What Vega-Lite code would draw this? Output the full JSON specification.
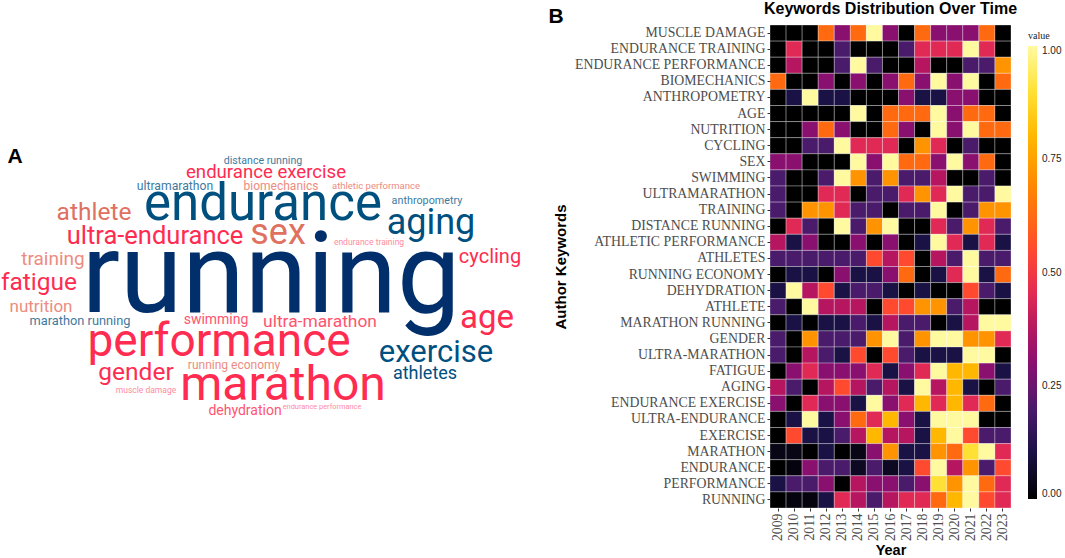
{
"$schema":"https://vega.github.io/schema/vega-lite/v6.json",
"padding":0,
"bounds":"flush",
"spacing":0,
"background":"white",
"config":{"view":{"stroke":null}},
"datasets":{
"words":[
{"word":"running","cx":271,"by":311,"freq":113,"group":"navy"},
{"word":"endurance","cx":263,"by":219,"freq":51,"group":"blue"},
{"word":"performance","cx":219,"by":355,"freq":46,"group":"red"},
{"word":"marathon","cx":283,"by":399,"freq":48,"group":"red"},
{"word":"sex","cx":278,"by":243,"freq":36,"group":"salmon"},
{"word":"aging","cx":431,"by":233,"freq":36,"group":"blue"},
{"word":"exercise","cx":436,"by":361,"freq":31,"group":"blue"},
{"word":"age","cx":487,"by":327,"freq":33,"group":"red"},
{"word":"athletes","cx":425,"by":378,"freq":18,"group":"blue"},
{"word":"athlete","cx":94,"by":219,"freq":24.5,"group":"salmon"},
{"word":"ultra-endurance","cx":155,"by":243,"freq":25.5,"group":"red"},
{"word":"fatigue","cx":39,"by":289,"freq":24.5,"group":"red"},
{"word":"training","cx":53,"by":264,"freq":19,"group":"salmon2"},
{"word":"nutrition","cx":41,"by":311,"freq":17,"group":"salmon2"},
{"word":"marathon running","cx":80,"by":324,"freq":12.8,"group":"blue2"},
{"word":"gender","cx":136,"by":379,"freq":24.5,"group":"red"},
{"word":"muscle damage","cx":146,"by":392,"freq":8.5,"group":"pink"},
{"word":"running economy","cx":234,"by":368,"freq":12,"group":"salmon2"},
{"word":"dehydration","cx":245,"by":414,"freq":14,"group":"red2"},
{"word":"endurance performance","cx":322,"by":408,"freq":7.4,"group":"pink"},
{"word":"swimming","cx":216,"by":323,"freq":14,"group":"red2"},
{"word":"ultra-marathon","cx":320,"by":326,"freq":17.4,"group":"red2"},
{"word":"cycling","cx":490,"by":262,"freq":20,"group":"red"},
{"word":"endurance training","cx":369,"by":244,"freq":8.5,"group":"pink"},
{"word":"anthropometry","cx":427,"by":203,"freq":10.8,"group":"blue2"},
{"word":"athletic performance","cx":376,"by":188,"freq":9.5,"group":"salmon2"},
{"word":"biomechanics","cx":281,"by":189,"freq":12,"group":"salmon2"},
{"word":"ultramarathon","cx":175,"by":189,"freq":12.2,"group":"blue2"},
{"word":"endurance exercise","cx":266,"by":177,"freq":18.6,"group":"red"},
{"word":"distance running","cx":263,"by":163,"freq":10.6,"group":"blue2"}
],
"panels":[{"tag":"A","cx":15,"by":162},{"tag":"B","cx":556,"by":22}],
"cells":[
{"keyword":"MUSCLE DAMAGE","year":2009,"value":0},{"keyword":"MUSCLE DAMAGE","year":2010,"value":0},{"keyword":"MUSCLE DAMAGE","year":2011,"value":0},{"keyword":"MUSCLE DAMAGE","year":2012,"value":0.62},{"keyword":"MUSCLE DAMAGE","year":2013,"value":0.3},{"keyword":"MUSCLE DAMAGE","year":2014,"value":0.62},{"keyword":"MUSCLE DAMAGE","year":2015,"value":1},{"keyword":"MUSCLE DAMAGE","year":2016,"value":0.3},{"keyword":"MUSCLE DAMAGE","year":2017,"value":0},{"keyword":"MUSCLE DAMAGE","year":2018,"value":0.62},{"keyword":"MUSCLE DAMAGE","year":2019,"value":0.3},{"keyword":"MUSCLE DAMAGE","year":2020,"value":0.3},{"keyword":"MUSCLE DAMAGE","year":2021,"value":0.3},{"keyword":"MUSCLE DAMAGE","year":2022,"value":0.62},{"keyword":"MUSCLE DAMAGE","year":2023,"value":0},
{"keyword":"ENDURANCE TRAINING","year":2009,"value":0},{"keyword":"ENDURANCE TRAINING","year":2010,"value":0.45},{"keyword":"ENDURANCE TRAINING","year":2011,"value":0},{"keyword":"ENDURANCE TRAINING","year":2012,"value":0},{"keyword":"ENDURANCE TRAINING","year":2013,"value":0.2},{"keyword":"ENDURANCE TRAINING","year":2014,"value":0},{"keyword":"ENDURANCE TRAINING","year":2015,"value":0},{"keyword":"ENDURANCE TRAINING","year":2016,"value":0},{"keyword":"ENDURANCE TRAINING","year":2017,"value":0.2},{"keyword":"ENDURANCE TRAINING","year":2018,"value":0.45},{"keyword":"ENDURANCE TRAINING","year":2019,"value":0.45},{"keyword":"ENDURANCE TRAINING","year":2020,"value":0.45},{"keyword":"ENDURANCE TRAINING","year":2021,"value":1},{"keyword":"ENDURANCE TRAINING","year":2022,"value":0.45},{"keyword":"ENDURANCE TRAINING","year":2023,"value":0},
{"keyword":"ENDURANCE PERFORMANCE","year":2009,"value":0},{"keyword":"ENDURANCE PERFORMANCE","year":2010,"value":0.38},{"keyword":"ENDURANCE PERFORMANCE","year":2011,"value":0},{"keyword":"ENDURANCE PERFORMANCE","year":2012,"value":0},{"keyword":"ENDURANCE PERFORMANCE","year":2013,"value":0.2},{"keyword":"ENDURANCE PERFORMANCE","year":2014,"value":1},{"keyword":"ENDURANCE PERFORMANCE","year":2015,"value":0.2},{"keyword":"ENDURANCE PERFORMANCE","year":2016,"value":0},{"keyword":"ENDURANCE PERFORMANCE","year":2017,"value":0},{"keyword":"ENDURANCE PERFORMANCE","year":2018,"value":0.38},{"keyword":"ENDURANCE PERFORMANCE","year":2019,"value":0},{"keyword":"ENDURANCE PERFORMANCE","year":2020,"value":0},{"keyword":"ENDURANCE PERFORMANCE","year":2021,"value":0.2},{"keyword":"ENDURANCE PERFORMANCE","year":2022,"value":0.2},{"keyword":"ENDURANCE PERFORMANCE","year":2023,"value":0.72},
{"keyword":"BIOMECHANICS","year":2009,"value":0.62},{"keyword":"BIOMECHANICS","year":2010,"value":0},{"keyword":"BIOMECHANICS","year":2011,"value":0},{"keyword":"BIOMECHANICS","year":2012,"value":0.3},{"keyword":"BIOMECHANICS","year":2013,"value":0},{"keyword":"BIOMECHANICS","year":2014,"value":0.3},{"keyword":"BIOMECHANICS","year":2015,"value":0},{"keyword":"BIOMECHANICS","year":2016,"value":0.3},{"keyword":"BIOMECHANICS","year":2017,"value":0.62},{"keyword":"BIOMECHANICS","year":2018,"value":0.3},{"keyword":"BIOMECHANICS","year":2019,"value":1},{"keyword":"BIOMECHANICS","year":2020,"value":0.3},{"keyword":"BIOMECHANICS","year":2021,"value":1},{"keyword":"BIOMECHANICS","year":2022,"value":0},{"keyword":"BIOMECHANICS","year":2023,"value":0.62},
{"keyword":"ANTHROPOMETRY","year":2009,"value":0},{"keyword":"ANTHROPOMETRY","year":2010,"value":0.1},{"keyword":"ANTHROPOMETRY","year":2011,"value":1},{"keyword":"ANTHROPOMETRY","year":2012,"value":0.1},{"keyword":"ANTHROPOMETRY","year":2013,"value":0.1},{"keyword":"ANTHROPOMETRY","year":2014,"value":0},{"keyword":"ANTHROPOMETRY","year":2015,"value":0},{"keyword":"ANTHROPOMETRY","year":2016,"value":0},{"keyword":"ANTHROPOMETRY","year":2017,"value":0.3},{"keyword":"ANTHROPOMETRY","year":2018,"value":0.1},{"keyword":"ANTHROPOMETRY","year":2019,"value":0.1},{"keyword":"ANTHROPOMETRY","year":2020,"value":0.3},{"keyword":"ANTHROPOMETRY","year":2021,"value":0.3},{"keyword":"ANTHROPOMETRY","year":2022,"value":0},{"keyword":"ANTHROPOMETRY","year":2023,"value":0},
{"keyword":"AGE","year":2009,"value":0},{"keyword":"AGE","year":2010,"value":0},{"keyword":"AGE","year":2011,"value":0},{"keyword":"AGE","year":2012,"value":0},{"keyword":"AGE","year":2013,"value":0},{"keyword":"AGE","year":2014,"value":1},{"keyword":"AGE","year":2015,"value":0},{"keyword":"AGE","year":2016,"value":0.62},{"keyword":"AGE","year":2017,"value":0.62},{"keyword":"AGE","year":2018,"value":0.62},{"keyword":"AGE","year":2019,"value":1},{"keyword":"AGE","year":2020,"value":0.3},{"keyword":"AGE","year":2021,"value":0.62},{"keyword":"AGE","year":2022,"value":0.62},{"keyword":"AGE","year":2023,"value":0},
{"keyword":"NUTRITION","year":2009,"value":0},{"keyword":"NUTRITION","year":2010,"value":0},{"keyword":"NUTRITION","year":2011,"value":0.3},{"keyword":"NUTRITION","year":2012,"value":0.62},{"keyword":"NUTRITION","year":2013,"value":0.3},{"keyword":"NUTRITION","year":2014,"value":0},{"keyword":"NUTRITION","year":2015,"value":0},{"keyword":"NUTRITION","year":2016,"value":0.62},{"keyword":"NUTRITION","year":2017,"value":0.3},{"keyword":"NUTRITION","year":2018,"value":0},{"keyword":"NUTRITION","year":2019,"value":1},{"keyword":"NUTRITION","year":2020,"value":0.3},{"keyword":"NUTRITION","year":2021,"value":1},{"keyword":"NUTRITION","year":2022,"value":0.62},{"keyword":"NUTRITION","year":2023,"value":0.62},
{"keyword":"CYCLING","year":2009,"value":0},{"keyword":"CYCLING","year":2010,"value":0},{"keyword":"CYCLING","year":2011,"value":0.2},{"keyword":"CYCLING","year":2012,"value":0.2},{"keyword":"CYCLING","year":2013,"value":1},{"keyword":"CYCLING","year":2014,"value":0.45},{"keyword":"CYCLING","year":2015,"value":0.45},{"keyword":"CYCLING","year":2016,"value":0.45},{"keyword":"CYCLING","year":2017,"value":0},{"keyword":"CYCLING","year":2018,"value":0.72},{"keyword":"CYCLING","year":2019,"value":0.45},{"keyword":"CYCLING","year":2020,"value":0},{"keyword":"CYCLING","year":2021,"value":0.2},{"keyword":"CYCLING","year":2022,"value":0},{"keyword":"CYCLING","year":2023,"value":0},
{"keyword":"SEX","year":2009,"value":0.3},{"keyword":"SEX","year":2010,"value":0.3},{"keyword":"SEX","year":2011,"value":0},{"keyword":"SEX","year":2012,"value":0},{"keyword":"SEX","year":2013,"value":0},{"keyword":"SEX","year":2014,"value":1},{"keyword":"SEX","year":2015,"value":0.3},{"keyword":"SEX","year":2016,"value":1},{"keyword":"SEX","year":2017,"value":0.62},{"keyword":"SEX","year":2018,"value":0.62},{"keyword":"SEX","year":2019,"value":0.3},{"keyword":"SEX","year":2020,"value":1},{"keyword":"SEX","year":2021,"value":0.3},{"keyword":"SEX","year":2022,"value":0.62},{"keyword":"SEX","year":2023,"value":0},
{"keyword":"SWIMMING","year":2009,"value":0.2},{"keyword":"SWIMMING","year":2010,"value":0},{"keyword":"SWIMMING","year":2011,"value":0},{"keyword":"SWIMMING","year":2012,"value":0.2},{"keyword":"SWIMMING","year":2013,"value":1},{"keyword":"SWIMMING","year":2014,"value":0.72},{"keyword":"SWIMMING","year":2015,"value":0.2},{"keyword":"SWIMMING","year":2016,"value":0.72},{"keyword":"SWIMMING","year":2017,"value":0.2},{"keyword":"SWIMMING","year":2018,"value":0.2},{"keyword":"SWIMMING","year":2019,"value":0.38},{"keyword":"SWIMMING","year":2020,"value":0},{"keyword":"SWIMMING","year":2021,"value":0},{"keyword":"SWIMMING","year":2022,"value":0.2},{"keyword":"SWIMMING","year":2023,"value":0},
{"keyword":"ULTRAMARATHON","year":2009,"value":0.2},{"keyword":"ULTRAMARATHON","year":2010,"value":0},{"keyword":"ULTRAMARATHON","year":2011,"value":0},{"keyword":"ULTRAMARATHON","year":2012,"value":0.45},{"keyword":"ULTRAMARATHON","year":2013,"value":0.45},{"keyword":"ULTRAMARATHON","year":2014,"value":0},{"keyword":"ULTRAMARATHON","year":2015,"value":0.2},{"keyword":"ULTRAMARATHON","year":2016,"value":0.2},{"keyword":"ULTRAMARATHON","year":2017,"value":0.45},{"keyword":"ULTRAMARATHON","year":2018,"value":0.72},{"keyword":"ULTRAMARATHON","year":2019,"value":0.45},{"keyword":"ULTRAMARATHON","year":2020,"value":1},{"keyword":"ULTRAMARATHON","year":2021,"value":0.2},{"keyword":"ULTRAMARATHON","year":2022,"value":0.2},{"keyword":"ULTRAMARATHON","year":2023,"value":1},
{"keyword":"TRAINING","year":2009,"value":0.2},{"keyword":"TRAINING","year":2010,"value":0},{"keyword":"TRAINING","year":2011,"value":0.72},{"keyword":"TRAINING","year":2012,"value":0.72},{"keyword":"TRAINING","year":2013,"value":0.45},{"keyword":"TRAINING","year":2014,"value":0.2},{"keyword":"TRAINING","year":2015,"value":0.2},{"keyword":"TRAINING","year":2016,"value":0},{"keyword":"TRAINING","year":2017,"value":0.2},{"keyword":"TRAINING","year":2018,"value":0.2},{"keyword":"TRAINING","year":2019,"value":1},{"keyword":"TRAINING","year":2020,"value":0},{"keyword":"TRAINING","year":2021,"value":0.2},{"keyword":"TRAINING","year":2022,"value":0.72},{"keyword":"TRAINING","year":2023,"value":0.72},
{"keyword":"DISTANCE RUNNING","year":2009,"value":0},{"keyword":"DISTANCE RUNNING","year":2010,"value":0.45},{"keyword":"DISTANCE RUNNING","year":2011,"value":0.2},{"keyword":"DISTANCE RUNNING","year":2012,"value":0},{"keyword":"DISTANCE RUNNING","year":2013,"value":1},{"keyword":"DISTANCE RUNNING","year":2014,"value":0.2},{"keyword":"DISTANCE RUNNING","year":2015,"value":0.72},{"keyword":"DISTANCE RUNNING","year":2016,"value":1},{"keyword":"DISTANCE RUNNING","year":2017,"value":0},{"keyword":"DISTANCE RUNNING","year":2018,"value":0},{"keyword":"DISTANCE RUNNING","year":2019,"value":0.45},{"keyword":"DISTANCE RUNNING","year":2020,"value":0.2},{"keyword":"DISTANCE RUNNING","year":2021,"value":0.72},{"keyword":"DISTANCE RUNNING","year":2022,"value":0.45},{"keyword":"DISTANCE RUNNING","year":2023,"value":0.2},
{"keyword":"ATHLETIC PERFORMANCE","year":2009,"value":0.38},{"keyword":"ATHLETIC PERFORMANCE","year":2010,"value":0.1},{"keyword":"ATHLETIC PERFORMANCE","year":2011,"value":0.3},{"keyword":"ATHLETIC PERFORMANCE","year":2012,"value":0},{"keyword":"ATHLETIC PERFORMANCE","year":2013,"value":0},{"keyword":"ATHLETIC PERFORMANCE","year":2014,"value":0.3},{"keyword":"ATHLETIC PERFORMANCE","year":2015,"value":0},{"keyword":"ATHLETIC PERFORMANCE","year":2016,"value":0.3},{"keyword":"ATHLETIC PERFORMANCE","year":2017,"value":0},{"keyword":"ATHLETIC PERFORMANCE","year":2018,"value":0.1},{"keyword":"ATHLETIC PERFORMANCE","year":2019,"value":1},{"keyword":"ATHLETIC PERFORMANCE","year":2020,"value":0.45},{"keyword":"ATHLETIC PERFORMANCE","year":2021,"value":0.1},{"keyword":"ATHLETIC PERFORMANCE","year":2022,"value":0.45},{"keyword":"ATHLETIC PERFORMANCE","year":2023,"value":0.1},
{"keyword":"ATHLETES","year":2009,"value":0.2},{"keyword":"ATHLETES","year":2010,"value":0.2},{"keyword":"ATHLETES","year":2011,"value":0.2},{"keyword":"ATHLETES","year":2012,"value":0.2},{"keyword":"ATHLETES","year":2013,"value":0.2},{"keyword":"ATHLETES","year":2014,"value":0.2},{"keyword":"ATHLETES","year":2015,"value":0.55},{"keyword":"ATHLETES","year":2016,"value":0.38},{"keyword":"ATHLETES","year":2017,"value":0.55},{"keyword":"ATHLETES","year":2018,"value":0},{"keyword":"ATHLETES","year":2019,"value":0.38},{"keyword":"ATHLETES","year":2020,"value":0.2},{"keyword":"ATHLETES","year":2021,"value":1},{"keyword":"ATHLETES","year":2022,"value":0.2},{"keyword":"ATHLETES","year":2023,"value":0.2},
{"keyword":"RUNNING ECONOMY","year":2009,"value":0},{"keyword":"RUNNING ECONOMY","year":2010,"value":0.1},{"keyword":"RUNNING ECONOMY","year":2011,"value":0.1},{"keyword":"RUNNING ECONOMY","year":2012,"value":0},{"keyword":"RUNNING ECONOMY","year":2013,"value":0.3},{"keyword":"RUNNING ECONOMY","year":2014,"value":0.1},{"keyword":"RUNNING ECONOMY","year":2015,"value":0.1},{"keyword":"RUNNING ECONOMY","year":2016,"value":0.3},{"keyword":"RUNNING ECONOMY","year":2017,"value":0.62},{"keyword":"RUNNING ECONOMY","year":2018,"value":0},{"keyword":"RUNNING ECONOMY","year":2019,"value":0.1},{"keyword":"RUNNING ECONOMY","year":2020,"value":0.45},{"keyword":"RUNNING ECONOMY","year":2021,"value":1},{"keyword":"RUNNING ECONOMY","year":2022,"value":0.1},{"keyword":"RUNNING ECONOMY","year":2023,"value":0.62},
{"keyword":"DEHYDRATION","year":2009,"value":0.1},{"keyword":"DEHYDRATION","year":2010,"value":1},{"keyword":"DEHYDRATION","year":2011,"value":0.38},{"keyword":"DEHYDRATION","year":2012,"value":0.55},{"keyword":"DEHYDRATION","year":2013,"value":0.1},{"keyword":"DEHYDRATION","year":2014,"value":0.2},{"keyword":"DEHYDRATION","year":2015,"value":0.2},{"keyword":"DEHYDRATION","year":2016,"value":0.1},{"keyword":"DEHYDRATION","year":2017,"value":0},{"keyword":"DEHYDRATION","year":2018,"value":0.1},{"keyword":"DEHYDRATION","year":2019,"value":0},{"keyword":"DEHYDRATION","year":2020,"value":0},{"keyword":"DEHYDRATION","year":2021,"value":0.55},{"keyword":"DEHYDRATION","year":2022,"value":0.2},{"keyword":"DEHYDRATION","year":2023,"value":0.1},
{"keyword":"ATHLETE","year":2009,"value":0.2},{"keyword":"ATHLETE","year":2010,"value":0},{"keyword":"ATHLETE","year":2011,"value":1},{"keyword":"ATHLETE","year":2012,"value":0.38},{"keyword":"ATHLETE","year":2013,"value":0.38},{"keyword":"ATHLETE","year":2014,"value":0.38},{"keyword":"ATHLETE","year":2015,"value":0},{"keyword":"ATHLETE","year":2016,"value":0.55},{"keyword":"ATHLETE","year":2017,"value":0.55},{"keyword":"ATHLETE","year":2018,"value":0.72},{"keyword":"ATHLETE","year":2019,"value":0.72},{"keyword":"ATHLETE","year":2020,"value":0.2},{"keyword":"ATHLETE","year":2021,"value":0.38},{"keyword":"ATHLETE","year":2022,"value":0},{"keyword":"ATHLETE","year":2023,"value":0},
{"keyword":"MARATHON RUNNING","year":2009,"value":0},{"keyword":"MARATHON RUNNING","year":2010,"value":0.1},{"keyword":"MARATHON RUNNING","year":2011,"value":0},{"keyword":"MARATHON RUNNING","year":2012,"value":0.1},{"keyword":"MARATHON RUNNING","year":2013,"value":0.1},{"keyword":"MARATHON RUNNING","year":2014,"value":0.2},{"keyword":"MARATHON RUNNING","year":2015,"value":0.1},{"keyword":"MARATHON RUNNING","year":2016,"value":0.38},{"keyword":"MARATHON RUNNING","year":2017,"value":0.2},{"keyword":"MARATHON RUNNING","year":2018,"value":0.2},{"keyword":"MARATHON RUNNING","year":2019,"value":0},{"keyword":"MARATHON RUNNING","year":2020,"value":0.1},{"keyword":"MARATHON RUNNING","year":2021,"value":0.38},{"keyword":"MARATHON RUNNING","year":2022,"value":1},{"keyword":"MARATHON RUNNING","year":2023,"value":1},
{"keyword":"GENDER","year":2009,"value":0.2},{"keyword":"GENDER","year":2010,"value":0},{"keyword":"GENDER","year":2011,"value":0.72},{"keyword":"GENDER","year":2012,"value":0.2},{"keyword":"GENDER","year":2013,"value":0.2},{"keyword":"GENDER","year":2014,"value":0.2},{"keyword":"GENDER","year":2015,"value":0.72},{"keyword":"GENDER","year":2016,"value":1},{"keyword":"GENDER","year":2017,"value":0.2},{"keyword":"GENDER","year":2018,"value":0.72},{"keyword":"GENDER","year":2019,"value":1},{"keyword":"GENDER","year":2020,"value":1},{"keyword":"GENDER","year":2021,"value":0.72},{"keyword":"GENDER","year":2022,"value":0.72},{"keyword":"GENDER","year":2023,"value":0.45},
{"keyword":"ULTRA-MARATHON","year":2009,"value":0.2},{"keyword":"ULTRA-MARATHON","year":2010,"value":0},{"keyword":"ULTRA-MARATHON","year":2011,"value":0.38},{"keyword":"ULTRA-MARATHON","year":2012,"value":0.2},{"keyword":"ULTRA-MARATHON","year":2013,"value":0.1},{"keyword":"ULTRA-MARATHON","year":2014,"value":0.55},{"keyword":"ULTRA-MARATHON","year":2015,"value":0},{"keyword":"ULTRA-MARATHON","year":2016,"value":0.55},{"keyword":"ULTRA-MARATHON","year":2017,"value":0.2},{"keyword":"ULTRA-MARATHON","year":2018,"value":0.1},{"keyword":"ULTRA-MARATHON","year":2019,"value":0.1},{"keyword":"ULTRA-MARATHON","year":2020,"value":0.1},{"keyword":"ULTRA-MARATHON","year":2021,"value":1},{"keyword":"ULTRA-MARATHON","year":2022,"value":1},{"keyword":"ULTRA-MARATHON","year":2023,"value":0},
{"keyword":"FATIGUE","year":2009,"value":0},{"keyword":"FATIGUE","year":2010,"value":0.3},{"keyword":"FATIGUE","year":2011,"value":0.45},{"keyword":"FATIGUE","year":2012,"value":0.3},{"keyword":"FATIGUE","year":2013,"value":0.3},{"keyword":"FATIGUE","year":2014,"value":0.3},{"keyword":"FATIGUE","year":2015,"value":0.45},{"keyword":"FATIGUE","year":2016,"value":0.1},{"keyword":"FATIGUE","year":2017,"value":0.3},{"keyword":"FATIGUE","year":2018,"value":0.45},{"keyword":"FATIGUE","year":2019,"value":1},{"keyword":"FATIGUE","year":2020,"value":0.8},{"keyword":"FATIGUE","year":2021,"value":0.8},{"keyword":"FATIGUE","year":2022,"value":0.3},{"keyword":"FATIGUE","year":2023,"value":0.1},
{"keyword":"AGING","year":2009,"value":0.38},{"keyword":"AGING","year":2010,"value":0.2},{"keyword":"AGING","year":2011,"value":0},{"keyword":"AGING","year":2012,"value":0.38},{"keyword":"AGING","year":2013,"value":0.55},{"keyword":"AGING","year":2014,"value":0.38},{"keyword":"AGING","year":2015,"value":0.2},{"keyword":"AGING","year":2016,"value":0.38},{"keyword":"AGING","year":2017,"value":0.1},{"keyword":"AGING","year":2018,"value":1},{"keyword":"AGING","year":2019,"value":0.38},{"keyword":"AGING","year":2020,"value":0.8},{"keyword":"AGING","year":2021,"value":0.1},{"keyword":"AGING","year":2022,"value":0},{"keyword":"AGING","year":2023,"value":0.2},
{"keyword":"ENDURANCE EXERCISE","year":2009,"value":0.3},{"keyword":"ENDURANCE EXERCISE","year":2010,"value":0},{"keyword":"ENDURANCE EXERCISE","year":2011,"value":0.45},{"keyword":"ENDURANCE EXERCISE","year":2012,"value":0.3},{"keyword":"ENDURANCE EXERCISE","year":2013,"value":0.3},{"keyword":"ENDURANCE EXERCISE","year":2014,"value":0.1},{"keyword":"ENDURANCE EXERCISE","year":2015,"value":1},{"keyword":"ENDURANCE EXERCISE","year":2016,"value":0.3},{"keyword":"ENDURANCE EXERCISE","year":2017,"value":0.45},{"keyword":"ENDURANCE EXERCISE","year":2018,"value":0.8},{"keyword":"ENDURANCE EXERCISE","year":2019,"value":0.45},{"keyword":"ENDURANCE EXERCISE","year":2020,"value":0.8},{"keyword":"ENDURANCE EXERCISE","year":2021,"value":0.45},{"keyword":"ENDURANCE EXERCISE","year":2022,"value":0.62},{"keyword":"ENDURANCE EXERCISE","year":2023,"value":0},
{"keyword":"ULTRA-ENDURANCE","year":2009,"value":0},{"keyword":"ULTRA-ENDURANCE","year":2010,"value":0.1},{"keyword":"ULTRA-ENDURANCE","year":2011,"value":1},{"keyword":"ULTRA-ENDURANCE","year":2012,"value":0.1},{"keyword":"ULTRA-ENDURANCE","year":2013,"value":0.3},{"keyword":"ULTRA-ENDURANCE","year":2014,"value":0.62},{"keyword":"ULTRA-ENDURANCE","year":2015,"value":0.45},{"keyword":"ULTRA-ENDURANCE","year":2016,"value":0.8},{"keyword":"ULTRA-ENDURANCE","year":2017,"value":0.3},{"keyword":"ULTRA-ENDURANCE","year":2018,"value":0.1},{"keyword":"ULTRA-ENDURANCE","year":2019,"value":1},{"keyword":"ULTRA-ENDURANCE","year":2020,"value":1},{"keyword":"ULTRA-ENDURANCE","year":2021,"value":1},{"keyword":"ULTRA-ENDURANCE","year":2022,"value":0},{"keyword":"ULTRA-ENDURANCE","year":2023,"value":0},
{"keyword":"EXERCISE","year":2009,"value":0},{"keyword":"EXERCISE","year":2010,"value":0.55},{"keyword":"EXERCISE","year":2011,"value":0.1},{"keyword":"EXERCISE","year":2012,"value":0.1},{"keyword":"EXERCISE","year":2013,"value":0.2},{"keyword":"EXERCISE","year":2014,"value":0.38},{"keyword":"EXERCISE","year":2015,"value":0.8},{"keyword":"EXERCISE","year":2016,"value":0.38},{"keyword":"EXERCISE","year":2017,"value":0.38},{"keyword":"EXERCISE","year":2018,"value":0.1},{"keyword":"EXERCISE","year":2019,"value":0.8},{"keyword":"EXERCISE","year":2020,"value":1},{"keyword":"EXERCISE","year":2021,"value":0.55},{"keyword":"EXERCISE","year":2022,"value":0.2},{"keyword":"EXERCISE","year":2023,"value":0.2},
{"keyword":"MARATHON","year":2009,"value":0.03},{"keyword":"MARATHON","year":2010,"value":0.03},{"keyword":"MARATHON","year":2011,"value":0},{"keyword":"MARATHON","year":2012,"value":0.1},{"keyword":"MARATHON","year":2013,"value":0},{"keyword":"MARATHON","year":2014,"value":0.03},{"keyword":"MARATHON","year":2015,"value":0.3},{"keyword":"MARATHON","year":2016,"value":0.72},{"keyword":"MARATHON","year":2017,"value":0.1},{"keyword":"MARATHON","year":2018,"value":0.1},{"keyword":"MARATHON","year":2019,"value":0.72},{"keyword":"MARATHON","year":2020,"value":0.62},{"keyword":"MARATHON","year":2021,"value":0.9},{"keyword":"MARATHON","year":2022,"value":1},{"keyword":"MARATHON","year":2023,"value":0.45},
{"keyword":"ENDURANCE","year":2009,"value":0},{"keyword":"ENDURANCE","year":2010,"value":0.02},{"keyword":"ENDURANCE","year":2011,"value":0.3},{"keyword":"ENDURANCE","year":2012,"value":0.2},{"keyword":"ENDURANCE","year":2013,"value":0.2},{"keyword":"ENDURANCE","year":2014,"value":0.05},{"keyword":"ENDURANCE","year":2015,"value":0.2},{"keyword":"ENDURANCE","year":2016,"value":0.05},{"keyword":"ENDURANCE","year":2017,"value":0.1},{"keyword":"ENDURANCE","year":2018,"value":0.55},{"keyword":"ENDURANCE","year":2019,"value":1},{"keyword":"ENDURANCE","year":2020,"value":0.38},{"keyword":"ENDURANCE","year":2021,"value":0.72},{"keyword":"ENDURANCE","year":2022,"value":0.2},{"keyword":"ENDURANCE","year":2023,"value":0.55},
{"keyword":"PERFORMANCE","year":2009,"value":0.1},{"keyword":"PERFORMANCE","year":2010,"value":0.2},{"keyword":"PERFORMANCE","year":2011,"value":0.2},{"keyword":"PERFORMANCE","year":2012,"value":0.3},{"keyword":"PERFORMANCE","year":2013,"value":0},{"keyword":"PERFORMANCE","year":2014,"value":0.38},{"keyword":"PERFORMANCE","year":2015,"value":0.3},{"keyword":"PERFORMANCE","year":2016,"value":0.3},{"keyword":"PERFORMANCE","year":2017,"value":0.2},{"keyword":"PERFORMANCE","year":2018,"value":0.3},{"keyword":"PERFORMANCE","year":2019,"value":0.9},{"keyword":"PERFORMANCE","year":2020,"value":0.72},{"keyword":"PERFORMANCE","year":2021,"value":1},{"keyword":"PERFORMANCE","year":2022,"value":0.62},{"keyword":"PERFORMANCE","year":2023,"value":0.45},
{"keyword":"RUNNING","year":2009,"value":0},{"keyword":"RUNNING","year":2010,"value":0.02},{"keyword":"RUNNING","year":2011,"value":0.02},{"keyword":"RUNNING","year":2012,"value":0.1},{"keyword":"RUNNING","year":2013,"value":0.45},{"keyword":"RUNNING","year":2014,"value":0.38},{"keyword":"RUNNING","year":2015,"value":0.2},{"keyword":"RUNNING","year":2016,"value":0.38},{"keyword":"RUNNING","year":2017,"value":0.45},{"keyword":"RUNNING","year":2018,"value":0.45},{"keyword":"RUNNING","year":2019,"value":0.62},{"keyword":"RUNNING","year":2020,"value":0.8},{"keyword":"RUNNING","year":2021,"value":1},{"keyword":"RUNNING","year":2022,"value":0.55},{"keyword":"RUNNING","year":2023,"value":0.45}
]},
"hconcat":[
{
"width":770,
"height":534,
"layer":[
{
"data":{"name":"words"},
"mark":{"type":"text","font":"Roboto","baseline":"alphabetic","align":"center","clip":false},
"encoding":{
"x":{"field":"cx","type":"quantitative","scale":{"domain":[0,770],"nice":false,"zero":false},"axis":null},
"y":{"field":"by","type":"quantitative","scale":{"domain":[558,24],"nice":false,"zero":false},"axis":null},
"text":{"field":"word"},
"size":{"field":"freq","type":"quantitative","scale":{"domain":[0,120],"range":[0,120]},"legend":null},
"color":{"field":"group","type":"nominal","legend":null,"scale":{"domain":["navy","blue","blue2","red","red2","salmon","salmon2","pink"],"range":["#002f6c","#00507f","#3f7a9f","#ff2b50","#ff5470","#e0705f","#ec8c80","#ff8ca0"]}}
}
},
{
"data":{"name":"panels"},
"mark":{"type":"text","font":"Liberation Sans","fontWeight":"bold","fontSize":21,"baseline":"alphabetic","align":"center","color":"black","clip":false},
"encoding":{
"x":{"field":"cx","type":"quantitative","axis":null},
"y":{"field":"by","type":"quantitative","axis":null},
"text":{"field":"tag"}
}
}
]
},
{
"width":241,
"height":483,
"title":{"text":"Keywords Distribution Over Time","font":"Liberation Sans","fontSize":16,"fontWeight":"bold","color":"black","anchor":"middle","offset":8},
"data":{"name":"cells"},
"mark":{"type":"rect","stroke":"white","strokeWidth":0.5,"strokeOpacity":0.6},
"encoding":{
"x":{"field":"year","type":"ordinal","scale":{"paddingInner":0,"paddingOuter":0},"axis":{"title":"Year","titleFont":"Liberation Sans","titleFontSize":14.5,"titleFontWeight":"bold","titleColor":"black","titlePadding":3,"labelFont":"Liberation Serif","labelFontSize":13.8,"labelColor":"#4d4d4d","labelAngle":270,"labelPadding":2,"tickColor":"#333333","tickSize":3,"domain":false}},
"y":{"field":"keyword","type":"nominal","sort":null,"scale":{"paddingInner":0,"paddingOuter":0},"axis":{"title":"Author Keywords","titleFont":"Liberation Sans","titleFontSize":15,"titleFontWeight":"bold","titleColor":"black","titlePadding":6,"labelFont":"Liberation Serif","labelFontSize":13.8,"labelColor":"#4d4d4d","labelPadding":2,"labelLimit":300,"tickColor":"#333333","tickSize":3,"domain":false}},
"color":{"field":"value","type":"quantitative","title":"value","scale":{"interpolate":"rgb","domain":[0,0.1,0.2,0.3,0.38,0.45,0.55,0.62,0.72,0.8,0.9,1],"range":["#000000","#1a1145","#4a1a6b","#8a1070","#b5165f","#e02a55","#ff4a30","#ff6a10","#ff9300","#ffb700","#ffe135","#fffaa0"]},"legend":{"orient":"none","legendX":258,"legendY":6,"direction":"vertical","gradientLength":453,"gradientThickness":9,"values":[0,0.25,0.5,0.75,1],"format":".2f","titleFont":"Liberation Serif","titleFontSize":10,"titleFontWeight":"normal","titleColor":"#222222","titlePadding":5,"labelFont":"Liberation Sans","labelFontSize":10,"labelColor":"#222222","labelOffset":5}}
}
}
]
}
